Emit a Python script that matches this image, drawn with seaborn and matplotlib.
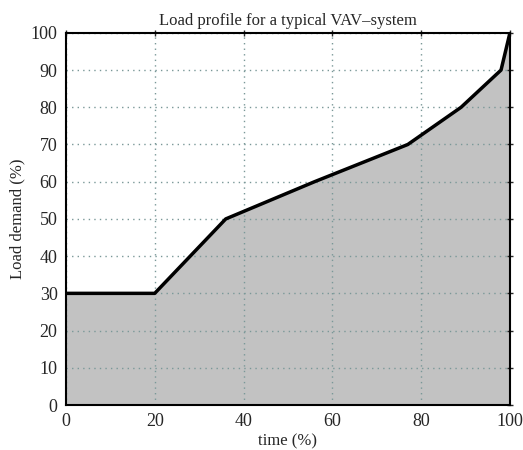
import matplotlib
matplotlib.use("Agg")
import matplotlib.pyplot as plt
import seaborn as sns
import pandas as pd

time_pct = [0, 20, 36, 56, 77, 89, 98, 100]
load_pct = [30, 30, 50, 60, 70, 80, 90, 100]
x_ticks = [0, 20, 40, 60, 80, 100]
y_ticks = [0, 10, 20, 30, 40, 50, 60, 70, 80, 90, 100]

sns.set_style("white")
plt.rcParams['font.family'] = ['Liberation Serif', 'DejaVu Serif']

df = pd.DataFrame({"time": time_pct, "load": load_pct})

fig = plt.figure(figsize=(5.23, 4.5), dpi=100)
ax = fig.add_axes([0.126, 0.1, 0.849, 0.827])

ax.fill_between(df["time"], df["load"], 0, color="#c2c2c2", zorder=1)
ax.grid(True, linestyle=(0, (1, 3)), color="#7a9898", linewidth=1.0, zorder=2)
ax.set_axisbelow(False)
sns.lineplot(data=df, x="time", y="load", color="black", linewidth=2.5, ax=ax, zorder=3)

ax.set_xlim(0, 100)
ax.set_ylim(0, 100)
ax.set_xticks(x_ticks)
ax.set_yticks(y_ticks)
ax.tick_params(direction="inout", top=True, right=True, length=5, labelsize=13, width=1)
for s in ax.spines.values():
    s.set_linewidth(1.5)
    s.set_color("black")
    s.set_zorder(4)
ax.set_xlabel("time (%)", fontsize=12, labelpad=2)
ax.set_ylabel("Load demand (%)", fontsize=12)
ax.set_title("Load profile for a typical VAV\u2013system", fontsize=12, pad=6)

fig.savefig("out.png", dpi=100)
